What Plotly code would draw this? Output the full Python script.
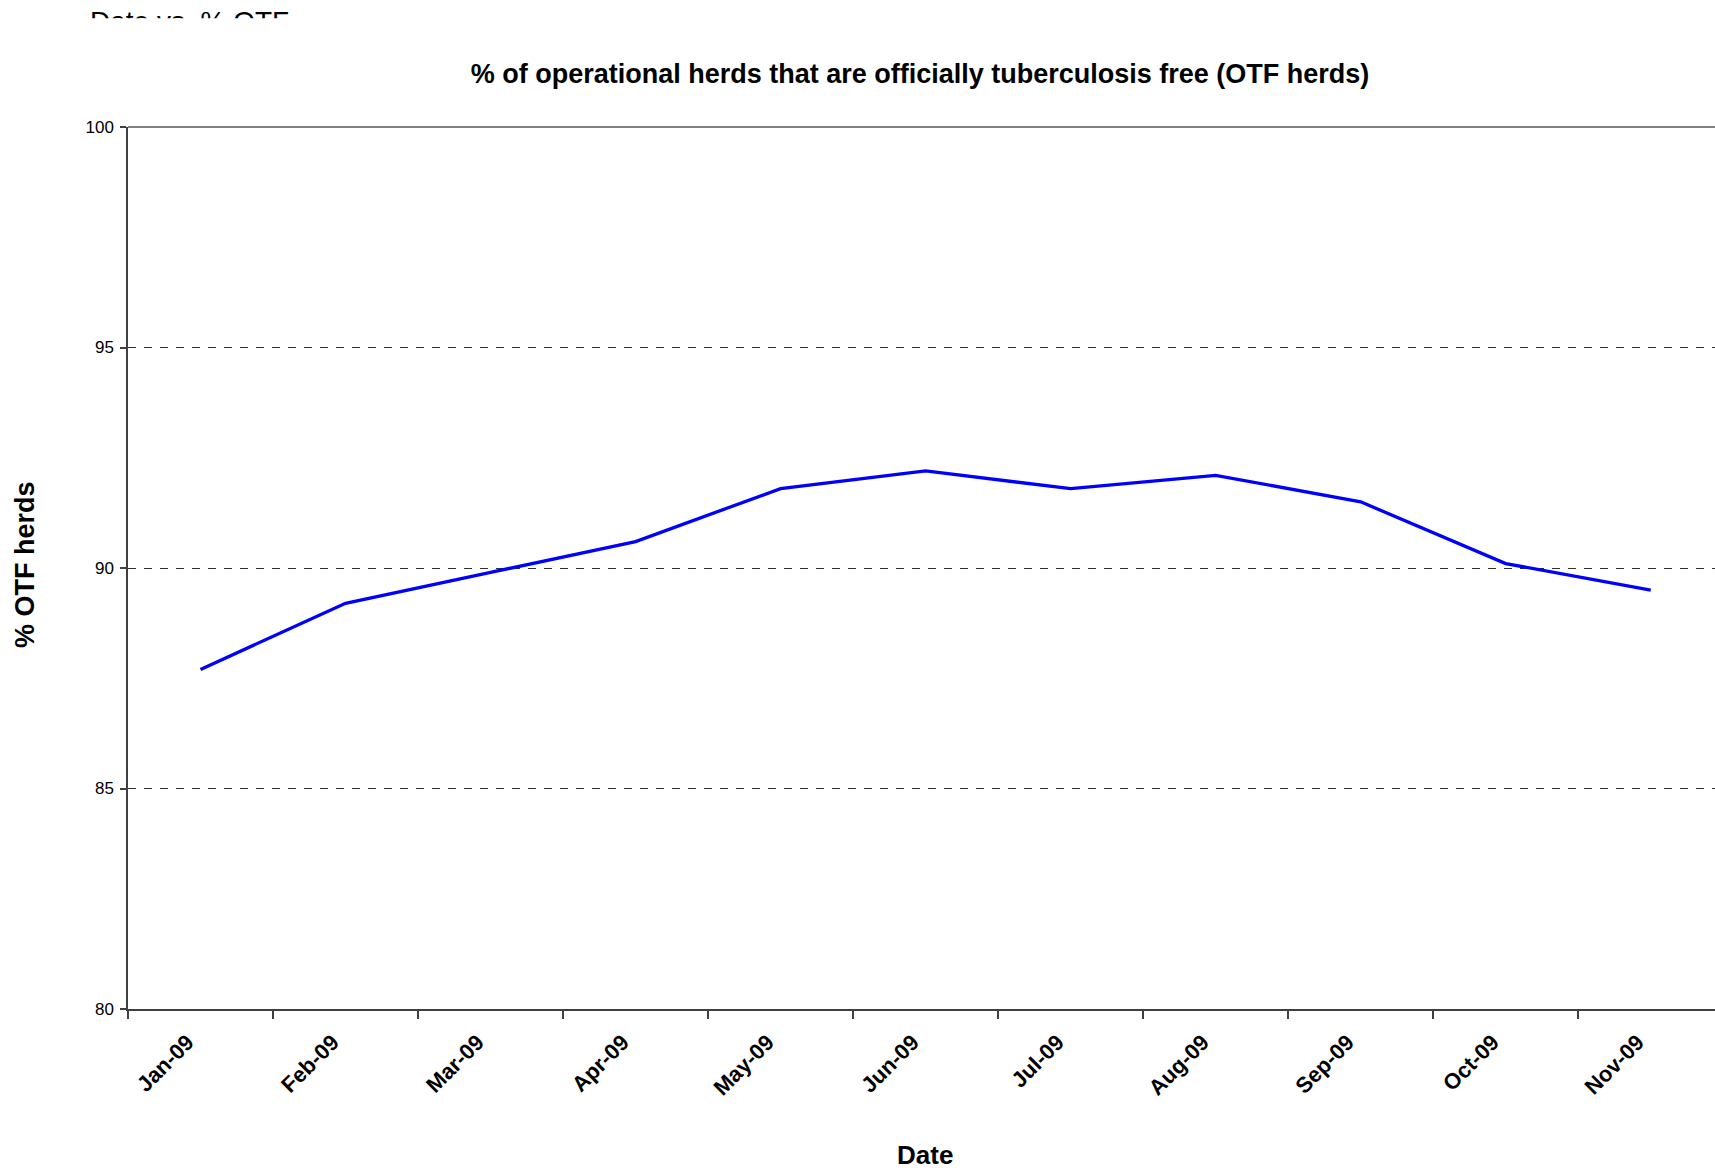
import plotly.graph_objects as go

months = ["Jan-09", "Feb-09", "Mar-09", "Apr-09", "May-09", "Jun-09",
          "Jul-09", "Aug-09", "Sep-09", "Oct-09", "Nov-09"]
otf_pct = [87.7, 89.2, 89.9, 90.6, 91.8, 92.2, 91.8, 92.1, 91.5, 90.1, 89.5]

title_text = "% of operational herds that are officially tuberculosis free (OTF herds)"
x_title = "Date"
y_title = "% OTF herds"
clipped_caption = ["Date vs. % OTF"]

W, H = 1715, 1173
FONT = "Liberation Sans, Arial, sans-serif"

fig = go.Figure()
fig.add_trace(go.Scatter(
    x=months, y=otf_pct, mode="lines",
    line=dict(color="#0000FF", width=3.3),
    xaxis="x", yaxis="y", showlegend=False, hoverinfo="x+y",
))

# partially clipped caption at the very top of the image (cut off in the reference too)
fig.add_trace(go.Scatter(
    x=[90], y=[10.3], mode="text", text=clipped_caption,
    textposition="bottom right",
    textfont=dict(family=FONT, size=28, color="#000000"),
    xaxis="x2", yaxis="y2", showlegend=False, hoverinfo="skip",
    cliponaxis=True,
))

plot_left = 128 / W
plot_bottom = (H - 1009) / H
plot_top = (H - 127) / H

fig.update_layout(
    template="none",
    width=W, height=H, autosize=False,
    margin=dict(l=0, r=0, t=0, b=0, pad=0, autoexpand=False),
    paper_bgcolor="white", plot_bgcolor="white",
    font=dict(family=FONT, color="#000000"),
    showlegend=False,
    title=dict(text=title_text, xref="container", yref="container",
               x=920 / W, y=1 - 74 / H, xanchor="center", yanchor="middle",
               font=dict(family=FONT, size=27, color="#000000", weight="bold")),
    xaxis=dict(
        domain=[plot_left, 1], type="category", categoryorder="array",
        categoryarray=months, range=[-0.5, 10.443], automargin=False,
        tickson="boundaries", ticks="outside", ticklen=8, tickwidth=1.5,
        tickcolor="#404040", showline=True, linecolor="#404040", linewidth=1.5,
        showgrid=False, zeroline=False, tickangle=-45,
        ticklabelstandoff=10, ticklabelshift=-13,
        tickfont=dict(family=FONT, size=22, color="#000000", weight="bold"),
        anchor="y", fixedrange=True,
    ),
    yaxis=dict(
        domain=[plot_bottom, plot_top], range=[80, 100], dtick=5, tick0=80,
        automargin=False,
        ticks="outside", ticklen=6, tickwidth=1.5, tickcolor="#404040",
        showline=True, linecolor="#404040", linewidth=1.5,
        showgrid=True, gridcolor="#303030", gridwidth=1, griddash="8px,8px",
        zeroline=False, ticklabelstandoff=3,
        tickfont=dict(family=FONT, size=17, color="#000000"),
        anchor="x", fixedrange=True,
    ),
    xaxis2=dict(domain=[0, 1], range=[0, W], visible=False, anchor="y2",
                automargin=False, fixedrange=True),
    yaxis2=dict(domain=[1 - 18.3 / H, 1], range=[18.3, 0], visible=False,
                automargin=False, anchor="x2", fixedrange=True),
    shapes=[dict(type="line", xref="paper", yref="paper",
                 x0=plot_left, x1=1, y0=plot_top, y1=plot_top,
                 line=dict(color="#808080", width=2), layer="above")],
    annotations=[
        dict(text=y_title, xref="paper", yref="paper", x=25 / W, y=1 - 565 / H,
             textangle=-90, showarrow=False, xanchor="center", yanchor="middle",
             font=dict(family=FONT, size=27, color="#000000", weight="bold")),
        dict(text=x_title, xref="paper", yref="paper", x=925 / W, y=1 - 1155 / H,
             showarrow=False, xanchor="center", yanchor="middle",
             font=dict(family=FONT, size=26, color="#000000", weight="bold")),
    ],
)

fig.write_html(
    "out.html",
    config={"displayModeBar": False, "responsive": False},
    post_script="document.body.style.margin='0px';document.body.style.overflow='hidden';",
)
